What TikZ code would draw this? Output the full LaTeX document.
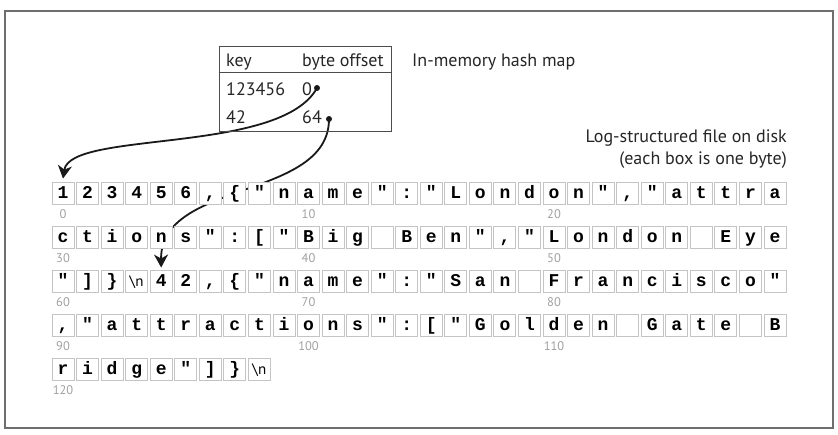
\documentclass[tikz,border=0pt]{standalone}
\usepackage{fontspec}
\setmainfont{PT Sans}
\newfontfamily\bytefont{Liberation Mono}
\usetikzlibrary{arrows.meta,backgrounds,positioning}
\definecolor{frameGray}{HTML}{6E6E6E}
\definecolor{boxGray}{HTML}{C4C4C4}
\definecolor{indexGray}{HTML}{A0A0A0}
\newcommand{\blankbyte}{}
\newcommand{\newlinebyte}{{\mdseries\rmfamily\fontsize{15}{15}\selectfont\textbackslash n}}
% one row of 30 bytes, #1 = row number, #2 = the bytes
\newcommand{\byterow}[2]{%
  \foreach \ch [count=\k from 0] in {#2} {
    \pgfmathtruncatemacro{\idx}{#1*30+\k}
    \node[bytebox] (b\idx) at (63+\k*24.55, 193+#1*44) {\ch};
  }}
\tikzset{
  bytebox/.style={draw=boxGray, line width=0.9pt, fill=white, minimum width=22pt,
    minimum height=22pt, inner sep=0pt, text height=10pt, text depth=0pt,
    font=\bytefont\bfseries\fontsize{18}{18}\selectfont},
  indexlabel/.style={text=indexGray, inner sep=0pt, font=\fontsize{12.5}{12.5}\selectfont},
  maptext/.style={anchor=base west, inner sep=0pt, text=black!85, font=\fontsize{18}{21}\selectfont},
  pointdot/.style={circle, fill=black!90, inner sep=0pt, minimum size=6pt},
  pointer/.style={line width=1.8pt, draw=black!90, -{Stealth[length=13pt,width=14pt,inset=4pt]}},
}

\begin{document}
\begin{tikzpicture}[x=1pt, y=-1pt]
  \useasboundingbox (0,0) rectangle (838,434);
  \draw[frameGray, line width=1.2pt] (5,11) rectangle (833,428);

  % hash map
  \node[draw=black!70, line width=0.8pt, minimum width=172pt, minimum height=85pt, inner sep=0pt] (hashmap) at (305,88.5) {};
  \coordinate (headrule) at (0,72);
  \draw[black!70, line width=0.8pt] (hashmap.west |- headrule) -- (hashmap.east |- headrule);
  \node[maptext] (keyhead) at (226,66) {key};
  \node[maptext] (offhead) at (302,66) {byte offset};
  \node[maptext] (key1) at (226,95) {123456};
  \node[maptext] (off1) at (302,95) {0};
  \node[maptext] (key2) at (226,123) {42};
  \node[maptext] (off2) at (302,123) {64};
  \node[pointdot] (d1) at (317,88) {};
  \node[pointdot] (d2) at (329,119) {};
  \node[maptext] (maptitle) at (412,66) {In-memory hash map};

  % log file
  \node[maptext, anchor=base east] (logtitle) at (787,142) {Log-structured file on disk};
  \node[maptext, anchor=base east] (logsub) at (787,164) {(each box is one byte)};

  \byterow{0}{1,2,3,4,5,6,{,},\{,",n,a,m,e,",:,",L,o,n,d,o,n,",{,},",a,t,t,r,a}
  \byterow{1}{c,t,i,o,n,s,",:,[,",B,i,g,\blankbyte,B,e,n,",{,},",L,o,n,d,o,n,\blankbyte,E,y,e}
  \byterow{2}{",],\},\newlinebyte,4,2,{,},\{,",n,a,m,e,",:,",S,a,n,\blankbyte,F,r,a,n,c,i,s,c,o,"}
  \byterow{3}{{,},",a,t,t,r,a,c,t,i,o,n,s,",:,[,",G,o,l,d,e,n,\blankbyte,G,a,t,e,\blankbyte,B}
  \byterow{4}{r,i,d,g,e,",],\},\newlinebyte}

  \foreach \pos in {0,10,...,120}
    \node[indexlabel] (idx\pos) at ([yshift=-10pt]b\pos.south) {\pos};

  % pointers into the file
  \begin{pgfonlayer}{background}
    \draw[pointer] (d1.center) .. controls (280,155) and (70,130) .. ([yshift=3pt]b0.north);
    \draw[pointer] (d2.center) .. controls (329,200) and (160,180) .. ([yshift=2pt]b64.north);
  \end{pgfonlayer}
\end{tikzpicture}
\end{document}
